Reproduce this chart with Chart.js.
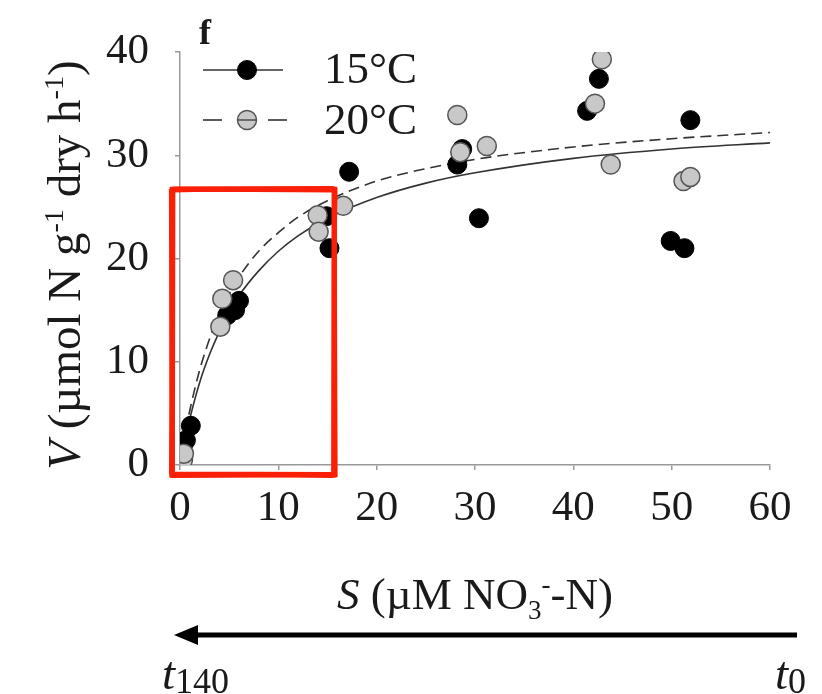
<!DOCTYPE html>
<html>
<head>
<meta charset="utf-8">
<script src="https://cdn.jsdelivr.net/npm/chart.js@4.4.1/dist/chart.umd.min.js"></script>
<style>
  html, body { margin: 0; padding: 0; background: #fff; }
  #wrap { position: relative; width: 822px; height: 694px; overflow: hidden; font-family: "Liberation Serif", "Times New Roman", serif; color: #1a1a1a; }
  #c { position: absolute; left: 0; top: 0; }
  .ov { position: absolute; white-space: nowrap; }
  sup, sub { font-size: 0.6em; line-height: 0; }
</style>
</head>
<body>
<div id="wrap">
  <canvas id="c" width="822" height="694"></canvas>

  <div class="ov" style="left:199px; top:12px; font-size:36px; font-weight:bold; line-height:40px;">f</div>

  <svg class="ov" style="left:0; top:0;" width="822" height="694">
    <line x1="203" y1="70" x2="283" y2="70" stroke="#333" stroke-width="1.6"/>
    <circle cx="247" cy="70" r="9.5" fill="#000" stroke="#000" stroke-width="1"/>
    <line x1="203" y1="120" x2="222" y2="120" stroke="#333" stroke-width="1.6"/>
    <circle cx="247" cy="120" r="9.5" fill="#c8c8c8" stroke="#555" stroke-width="1.5"/>
    <line x1="238" y1="120" x2="256" y2="120" stroke="#444" stroke-width="1.4"/>
    <line x1="268" y1="120" x2="287" y2="120" stroke="#333" stroke-width="1.6"/>
    <line x1="797" y1="635" x2="192" y2="635" stroke="#000" stroke-width="5"/>
    <polygon points="174,635 198,625 198,645" fill="#000"/>
  </svg>

  <div class="ov" style="left:324px; top:43px; font-size:45px; line-height:50px;">15°C</div>
  <div class="ov" style="left:324px; top:94px; font-size:45px; line-height:50px;">20°C</div>

  <div class="ov" style="left:-186px; top:240px; width:500px; text-align:center; font-size:47px; line-height:50px; transform:rotate(-90deg);"><i>V</i> (µmol N g<sup>-1</sup> dry h<sup>-1</sup>)</div>
  <div class="ov" style="left:175px; top:569px; width:600px; text-align:center; font-size:45px; line-height:50px;"><i>S</i> (µM NO<sub>3</sub><sup>-</sup>-N)</div>

  <div class="ov" style="left:162px; top:648px; font-size:47px; line-height:50px;"><i>t</i><span style="font-size:36px; position:relative; top:4px;">140</span></div>
  <div class="ov" style="left:775px; top:648px; font-size:47px; line-height:50px;"><i>t</i><span style="font-size:36px; position:relative; top:4px;">0</span></div>
</div>

<script>
// ---- Data ----
const s15 = [0.3, 0.6, 1.1, 4.8, 5.6, 6.0, 14.9, 15.2, 17.2, 28.2, 28.7, 30.4, 41.4, 42.6, 49.9, 51.3, 51.9];
const v15 = [1.9, 2.4, 3.8, 14.5, 15.0, 15.9, 24.1, 21.0, 28.4, 29.1, 30.6, 23.9, 34.3, 37.4, 21.7, 21.0, 33.4];

const s20 = [0.2, 0.3, 0.4, 4.1, 4.3, 5.4, 14.0, 14.1, 16.6, 28.2, 28.5, 31.2, 42.2, 42.9, 43.8, 51.2, 51.9];
const v20 = [0.0, 0.5, 1.1, 13.4, 16.1, 17.9, 24.2, 22.6, 25.1, 33.9, 30.3, 30.9, 35.0, 39.3, 29.1, 27.5, 27.9];

// fitted curves
const curveS  = [0, 0.5, 1, 2, 3, 4, 5, 6, 8, 10, 12, 15, 20, 25, 30, 40, 50, 60];
const curve15 = [0, 2.4, 4.5, 8.0, 10.7, 12.9, 14.8, 16.4, 18.8, 20.7, 22.2, 23.9, 25.9, 27.3, 28.3, 29.7, 30.6, 31.2];
const curve20 = [0, 2.9, 5.3, 9.2, 12.2, 14.6, 16.5, 18.2, 20.7, 22.5, 24.0, 25.6, 27.5, 28.7, 29.6, 30.8, 31.6, 32.2];

const xTicks = [0, 10, 20, 30, 40, 50, 60];
const yTicks = [0, 10, 20, 30, 40];

// highlighted region (data units)
const boxS = [-0.8, 15.7];
const boxV = [-0.95, 26.7];

const pairs = (xs, ys) => xs.map((x, i) => ({ x: x, y: ys[i] }));

const redBox = {
  id: 'redBox',
  afterDraw(chart) {
    const { ctx, scales: { x, y } } = chart;
    const l = x.getPixelForValue(boxS[0]), r = x.getPixelForValue(boxS[1]);
    const t = y.getPixelForValue(boxV[1]), b = y.getPixelForValue(boxV[0]);
    ctx.save();
    ctx.strokeStyle = 'rgb(250,32,8)';
    ctx.lineJoin = 'miter';
    const offs = [[-2, 1, 2.5], [2, -1.5, 2.5], [0, 0, 5], [-1, 2, 1.5], [1.5, 2.5, 1.2]];
    offs.forEach(o => {
      ctx.lineWidth = o[2];
      ctx.beginPath();
      ctx.moveTo(l + o[0], t + o[1]);
      ctx.lineTo(r + o[1], t - o[0]);
      ctx.lineTo(r - o[0], b + o[1]);
      ctx.lineTo(l - o[1], b - o[0]);
      ctx.closePath();
      ctx.stroke();
    });
    ctx.restore();
  }
};

const tickFont = { family: "'Liberation Serif', serif", size: 43 };

new Chart(document.getElementById('c'), {
  type: 'scatter',
  data: {
    datasets: [
      { label: '20°C', data: pairs(s20, v20), order: 0,
        backgroundColor: '#c8c8c8', borderColor: '#555', borderWidth: 1.5, pointRadius: 9.5, showLine: false },
      { label: '15°C', data: pairs(s15, v15), order: 1,
        backgroundColor: '#000', borderColor: '#000', borderWidth: 1, pointRadius: 9.5, showLine: false },
      { label: '15°C fit', data: pairs(curveS, curve15), order: 2, showLine: true,
        borderColor: '#333', borderWidth: 1.6, pointRadius: 0, cubicInterpolationMode: 'monotone', fill: false },
      { label: '20°C fit', data: pairs(curveS, curve20), order: 3, showLine: true,
        borderColor: '#333', borderWidth: 1.6, borderDash: [11, 6], pointRadius: 0, cubicInterpolationMode: 'monotone', fill: false }
    ]
  },
  options: {
    responsive: false,
    animation: false,
    devicePixelRatio: 1,
    layout: { padding: { top: 52, right: 52, left: 0, bottom: 0 } },
    plugins: { legend: { display: false }, tooltip: { enabled: false } },
    scales: {
      x: {
        type: 'linear', min: 0, max: 60,
        afterBuildTicks: s => { s.ticks = xTicks.map(v => ({ value: v })); },
        afterFit: s => { s.height = 229; },
        ticks: { font: tickFont, color: '#1a1a1a', padding: 13, maxRotation: 0 },
        grid: { drawOnChartArea: false, drawTicks: true, tickLength: 5, color: '#999', lineWidth: 1.5 },
        border: { color: '#999', width: 1.5 }
      },
      y: {
        type: 'linear', min: 0, max: 40,
        afterBuildTicks: s => { s.ticks = yTicks.map(v => ({ value: v })); },
        afterFit: s => { s.width = 180; },
        ticks: { font: tickFont, color: '#1a1a1a', padding: 26 },
        grid: { drawOnChartArea: false, drawTicks: true, tickLength: 5, color: '#999', lineWidth: 1.5 },
        border: { color: '#999', width: 1.5 }
      }
    }
  },
  plugins: [redBox]
});
</script>
</body>
</html>
